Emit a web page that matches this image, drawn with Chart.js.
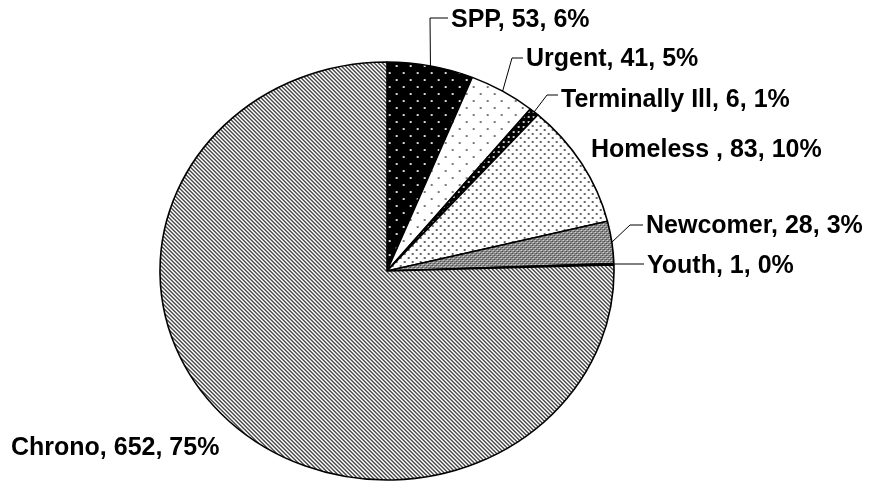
<!DOCTYPE html>
<html>
<head>
<meta charset="utf-8">
<script src="https://cdn.jsdelivr.net/npm/chart.js@4.4.1/dist/chart.umd.min.js"></script>
<style>
  html, body { margin: 0; padding: 0; background: #fff; overflow: hidden; }
  canvas { display: block; }
</style>
</head>
<body>
<canvas id="pieChart" width="871" height="481"></canvas>
<script>
// ── data ──
const categories = ['SPP', 'Urgent', 'Terminally Ill', 'Homeless ', 'Newcomer', 'Youth', 'Chrono'];
const counts = [53, 41, 6, 83, 28, 1, 652];

// label placement (text left / baseline, leader elbow), Excel-style
const labelLayout = [
  { tx: 451, ty: 27,  ex: 430, ey: 18 },
  { tx: 526, ty: 66,  ex: 512, ey: 58 },
  { tx: 561, ty: 107, ex: 547, ey: 95 },
  { tx: 591, ty: 157, ex: null },
  { tx: 646, ty: 233, ex: 630, ey: 225 },
  { tx: 647, ty: 273, ex: 614, ey: 264 },
  { tx: 11,  ty: 455, ex: null }
];

const RADIUS = 209;          // vertical radius
const STRETCH = 227 / 209;   // pie is drawn a little wider than tall

// ── fill patterns (Excel-like hatches) ──
function makePattern(w, h, draw) {
  const c = document.createElement('canvas');
  c.width = w; c.height = h;
  const g = c.getContext('2d');
  draw(g);
  const p = g.createPattern(c, 'repeat');
  p.setTransform(new DOMMatrix().scale(1 / STRETCH, 1));
  return p;
}

const patterns = [
  // SPP: black, sparse white dots
  makePattern(14, 14, g => {
    g.fillStyle = '#000'; g.fillRect(0, 0, 14, 14);
    g.fillStyle = '#ddd'; g.fillRect(2, 2, 2, 2); g.fillRect(9, 9, 2, 2);
  }),
  // Urgent: white, sparse grey dots
  makePattern(14, 14, g => {
    g.fillStyle = '#fff'; g.fillRect(0, 0, 14, 14);
    g.fillStyle = '#777'; g.fillRect(2, 2, 2, 2); g.fillRect(9, 9, 2, 2);
  }),
  // Terminally Ill: black, dense white dots
  makePattern(5, 5, g => {
    g.fillStyle = '#000'; g.fillRect(0, 0, 5, 5);
    g.fillStyle = '#ccc'; g.fillRect(1, 1, 2, 2);
  }),
  // Homeless: white, dense grey dots
  makePattern(8, 8, g => {
    g.fillStyle = '#fff'; g.fillRect(0, 0, 8, 8);
    g.fillStyle = '#666'; g.fillRect(1, 1, 2, 2); g.fillRect(5, 5, 2, 2);
  }),
  // Newcomer: grey diamond grid
  makePattern(4, 4, g => {
    g.fillStyle = '#8a8a8a'; g.fillRect(0, 0, 4, 4);
    g.fillStyle = '#eee'; g.fillRect(0, 0, 1, 1); g.fillRect(2, 2, 1, 1);
    g.fillStyle = '#333'; g.fillRect(1, 1, 1, 1); g.fillRect(3, 3, 1, 1);
  }),
  // Youth
  makePattern(4, 4, g => {
    g.fillStyle = '#999'; g.fillRect(0, 0, 4, 4);
  }),
  // Chrono: wide downward diagonal
  makePattern(4, 4, g => {
    g.fillStyle = '#fff'; g.fillRect(0, 0, 4, 4);
    g.fillStyle = '#4a4a4a';
    for (let i = 0; i < 4; i++) {
      g.fillRect(i, i, 1, 1);
      g.fillRect((i + 1) % 4, i, 1, 1);
    }
  })
];

// ── plugins ──
const ellipsePlugin = {
  id: 'ellipse',
  beforeDatasetsDraw(chart) {
    const arc = chart.getDatasetMeta(0).data[0];
    const ctx = chart.ctx;
    ctx.save();
    ctx.translate(arc.x, arc.y);
    ctx.scale(STRETCH, 1);
    ctx.translate(-arc.x, -arc.y);
  },
  afterDatasetsDraw(chart) {
    chart.ctx.restore();
  }
};

const labelPlugin = {
  id: 'sliceLabels',
  afterDraw(chart) {
    const ctx = chart.ctx;
    const meta = chart.getDatasetMeta(0);
    const total = counts.reduce((a, b) => a + b, 0);
    ctx.save();
    ctx.strokeStyle = '#000';
    ctx.lineWidth = 1;
    ctx.fillStyle = '#000';
    ctx.font = 'bold 25px "Liberation Sans", Arial, sans-serif';
    ctx.textAlign = 'left';
    ctx.textBaseline = 'alphabetic';
    meta.data.forEach((arc, i) => {
      const lay = labelLayout[i];
      const mid = (arc.startAngle + arc.endAngle) / 2;
      const px = arc.x + arc.outerRadius * STRETCH * Math.cos(mid);
      const py = arc.y + arc.outerRadius * Math.sin(mid);
      if (lay.ex !== null) {
        ctx.beginPath();
        ctx.moveTo(px, py);
        ctx.lineTo(lay.ex, lay.ey);
        ctx.lineTo(lay.tx - 3, lay.ey);
        ctx.stroke();
      }
      const pct = Math.round(counts[i] / total * 100);
      ctx.fillText(categories[i] + ', ' + counts[i] + ', ' + pct + '%', lay.tx, lay.ty);
    });
    ctx.restore();
  }
};

new Chart(document.getElementById('pieChart'), {
  type: 'pie',
  data: {
    labels: categories,
    datasets: [{
      data: counts,
      backgroundColor: patterns,
      borderColor: '#000',
      borderWidth: 1.5,
      radius: RADIUS
    }]
  },
  options: {
    responsive: false,
    animation: false,
    events: [],
    layout: { padding: { left: 100, right: 197, top: 61, bottom: 0 } },
    plugins: {
      legend: { display: false },
      tooltip: { enabled: false }
    }
  },
  plugins: [ellipsePlugin, labelPlugin]
});
</script>
</body>
</html>
